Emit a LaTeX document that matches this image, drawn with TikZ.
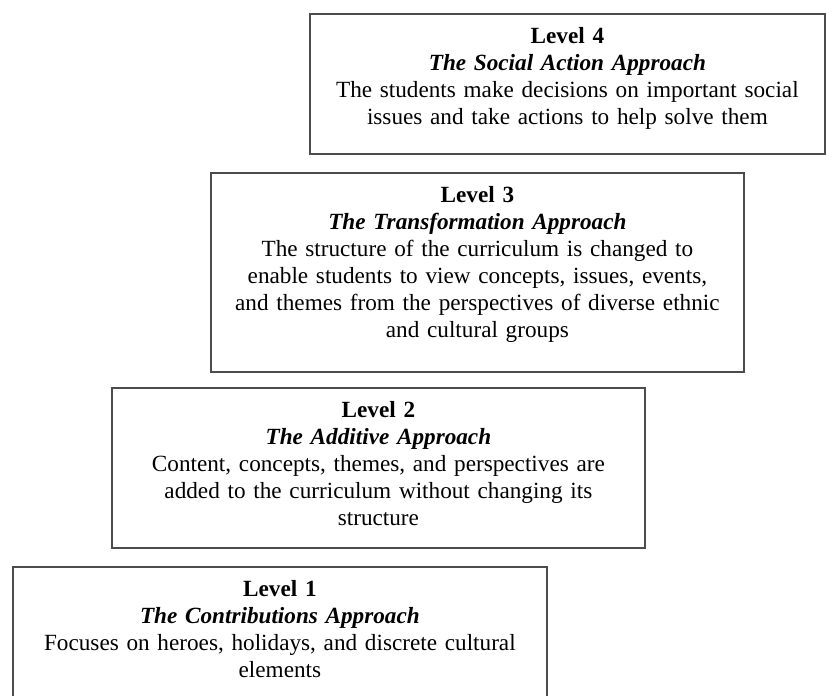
\documentclass[tikz,border=0pt]{standalone}
\usepackage{fontspec}
\setmainfont{Liberation Serif}
\tikzset{
  levelbox/.style={draw=black!70, line width=1.8pt, align=center,
    inner xsep=0pt, inner ysep=8pt, text height=22pt, anchor=north west}
}
\begin{document}
\begin{tikzpicture}
    [x=1pt,y=-1pt]
    \fontsize{23.2}{27}\selectfont
    \useasboundingbox (0,0) rectangle (828,696);
    \node[levelbox, text width=515pt, text depth=102pt] (level4) at (309,13)
      {\textbf{Level 4}\\
       \textbf{\textit{The Social Action Approach}}\\
       The students make decisions on important social\\
       issues and take actions to help solve them};
    \node[levelbox, text width=533pt, text depth=161pt] (level3) at (210,172)
      {\textbf{Level 3}\\
       \textbf{\textit{The Transformation Approach}}\\
       The structure of the curriculum is changed to\\
       enable students to view concepts, issues, events,\\
       and themes from the perspectives of diverse ethnic\\
       and cultural groups};
    \node[levelbox, text width=533pt, text depth=122pt] (level2) at (111,387)
      {\textbf{Level 2}\\
       \textbf{\textit{The Additive Approach}}\\
       Content, concepts, themes, and perspectives are\\
       added to the curriculum without changing its\\
       structure};
    \node[levelbox, text width=534pt, text depth=104pt] (level1) at (12,566)
      {\textbf{Level 1}\\
       \textbf{\textit{The Contributions Approach}}\\
       Focuses on heroes, holidays, and discrete cultural\\
       elements};
\end{tikzpicture}
\end{document}
